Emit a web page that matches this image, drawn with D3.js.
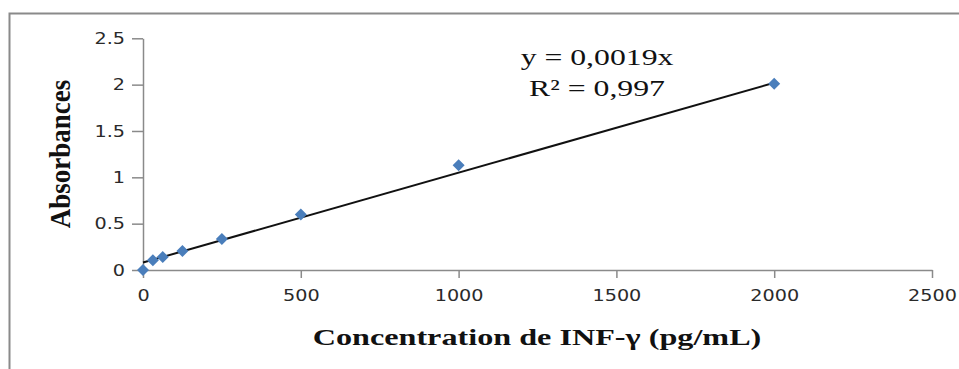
<!DOCTYPE html>
<html>
<head>
<meta charset="utf-8">
<script src="https://cdn.jsdelivr.net/npm/d3@7"></script>
<style>
  html, body { margin: 0; padding: 0; background: #fff; }
  svg { display: block; }
</style>
</head>
<body>
<svg id="chart" width="959" height="369"></svg>
<script>
// Standard curve: INF-γ concentration vs absorbance
const concentrations = [0, 31.25, 62.5, 125, 250, 500, 1000, 2000];
const absorbances    = [0, 0.105, 0.14, 0.205, 0.335, 0.6, 1.13, 2.01];

const xTickValues = [0, 500, 1000, 1500, 2000, 2500];
const yTickValues = [0, 0.5, 1, 1.5, 2, 2.5];
const yTickLabels = ["0", "0.5", "1", "1.5", "2", "2.5"];

// Linear trend line drawn across the measured range
const trendIntercept = 0.08;
const trendSlope = 0.00097;
const trendRange = [0, 2000];

const equationLines = ["y = 0,0019x", "R² = 0,997"];
const xTitle = "Concentration de INF-γ (pg/mL)";
const yTitle = "Absorbances";

const svg = d3.select("#chart");
const stretch = 1.2;

svg.append("rect").attr("width", 959).attr("height", 369).attr("fill", "#fff");

// chart frame
svg.append("path")
  .attr("d", "M9.5,369 V13.5 H959")
  .attr("fill", "none")
  .attr("stroke", "#8a8a8a")
  .attr("stroke-width", 2);

const x = d3.scaleLinear().domain([0, 2500]).range([143, 932]);
const y = d3.scaleLinear().domain([0, 2.5]).range([270, 38.3]);

const axisColor = "#8a8a8a";
const tickFont = "DejaVu Sans, Verdana, sans-serif";

// x axis
const gx = svg.append("g")
  .attr("transform", `translate(0,${y(0)})`)
  .call(d3.axisBottom(x).tickValues(xTickValues).tickSize(8).tickSizeOuter(0).tickPadding(12).tickFormat(d3.format("d")));
gx.select(".domain").attr("stroke", axisColor).attr("stroke-width", 1.5);
gx.selectAll(".tick line").attr("stroke", axisColor).attr("stroke-width", 1.5);
gx.selectAll(".tick text")
  .attr("font-family", tickFont).attr("font-size", 16).attr("fill", "#2a2a2a")
  .attr("transform", `scale(${stretch},1)`);

// y axis
const gy = svg.append("g")
  .attr("transform", `translate(${x(0)},0)`)
  .call(d3.axisLeft(y).tickValues(yTickValues).tickSize(11).tickSizeOuter(0)
    .tickFormat((d, i) => yTickLabels[i]));
gy.select(".domain").attr("stroke", axisColor).attr("stroke-width", 1.5);
gy.selectAll(".tick line").attr("stroke", axisColor).attr("stroke-width", 1.5);
gy.selectAll(".tick text")
  .attr("font-family", tickFont).attr("font-size", 16).attr("fill", "#2a2a2a")
  .attr("x", -18 / stretch)
  .attr("transform", `scale(${stretch},1)`);

// trend line
svg.append("line")
  .attr("x1", x(trendRange[0])).attr("y1", y(trendIntercept + trendSlope * trendRange[0]))
  .attr("x2", x(trendRange[1])).attr("y2", y(trendIntercept + trendSlope * trendRange[1]))
  .attr("stroke", "#111").attr("stroke-width", 2);

// data markers
const points = concentrations.map((c, i) => ({ c, a: absorbances[i] }));
svg.append("g").selectAll("path")
  .data(points)
  .join("path")
  .attr("d", d3.symbol(d3.symbolSquare, 72))
  .attr("transform", d => `translate(${x(d.c)},${y(d.a)}) rotate(45)`)
  .attr("fill", "#4a7ebb");

// equation
const eq = svg.append("text")
  .attr("font-family", "Liberation Serif, Times New Roman, serif")
  .attr("font-size", 23).attr("fill", "#111")
  .attr("text-anchor", "middle")
  .attr("transform", `translate(597,0) scale(1.38,1)`);
eq.selectAll("tspan").data(equationLines).join("tspan")
  .attr("x", 0).attr("y", (d, i) => 65 + i * 31.5)
  .text(d => d);

// axis titles
svg.append("text")
  .attr("font-family", "Liberation Serif, Times New Roman, serif")
  .attr("font-weight", "bold").attr("font-size", 23).attr("fill", "#111")
  .attr("text-anchor", "middle")
  .attr("transform", `translate(537,345) scale(1.4,1)`)
  .text(xTitle);

svg.append("text")
  .attr("font-family", "Liberation Serif, Times New Roman, serif")
  .attr("font-weight", "bold").attr("font-size", 27).attr("fill", "#111")
  .attr("text-anchor", "middle")
  .attr("transform", `translate(70,154) scale(1.1,1) rotate(-90)`)
  .text(yTitle);
</script>
</body>
</html>
